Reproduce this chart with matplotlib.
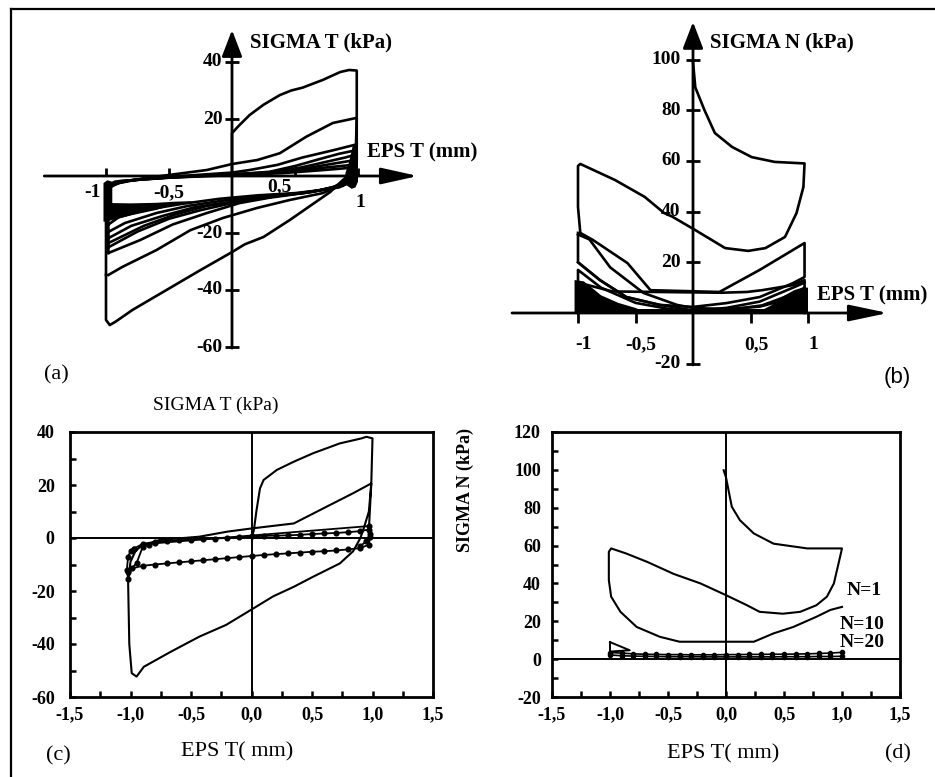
import matplotlib.pyplot as plt
from matplotlib.lines import Line2D
from matplotlib.ticker import MultipleLocator

plt.rcParams['font.family'] = 'serif'
plt.rcParams['font.serif'] = ['Liberation Serif', 'DejaVu Serif']

# ── (a) measured shear stress loops ─────────────────
A1_X = [0.0, 0.0, 0.03, 0.06, 0.14, 0.25, 0.38, 0.47, 0.56, 0.72, 0.86, 0.93, 0.99, 0.99, 0.98, 0.95, 0.88, 0.78,
        0.62, 0.46, 0.25, 0.1, 0.0, -0.25, -0.52, -0.79, -0.92, -0.97, -1.0, -1.0, -1.0]
A1_Y = [0.0, 15.0, 16.5, 17.9, 21.4, 25.0, 28.4, 30.0, 31.0, 33.7, 36.5, 37.2, 37.0, 20.0, 5.0, 1.0, -1.4, -5.6,
        -10.5, -15.4, -21.4, -24.0, -26.7, -33.0, -40.0, -47.0, -51.0, -52.3, -50.5, -40.0, -34.7]
A2_X = [-1.0, -1.0, -0.97, -0.9, -0.7, -0.39, -0.2, 0.0, 0.2, 0.38, 0.59, 0.8, 0.99, 0.99, 0.95, 0.85, 0.72,
        0.46, 0.2, -0.07, -0.33, -0.6, -0.87, -0.98]
A2_Y = [-34.7, -8.0, -4.0, -2.5, -0.8, 1.0, 2.1, 4.2, 5.6, 8.0, 13.8, 18.6, 20.4, 5.0, 0.0, -3.5, -6.0,
        -8.4, -11.2, -14.7, -19.0, -26.0, -31.9, -34.7]
A3_X = [-0.98, -1.0, -0.97, -0.85, -0.6, -0.3, 0.0, 0.14, 0.36, 0.56, 0.8, 0.98, 0.98, 0.93, 0.8, 0.6, 0.3,
        0.06, -0.2, -0.47, -0.73, -0.98]
A3_Y = [-27.0, -10.0, -3.5, -1.8, -0.6, 0.3, 1.2, 2.1, 3.9, 6.5, 9.0, 11.0, 2.0, -1.0, -4.0, -5.8, -7.6,
        -9.5, -13.0, -17.0, -22.5, -27.0]
A4_X = [-0.98, -1.0, -0.96, -0.8, -0.5, -0.2, 0.1, 0.3, 0.5, 0.7, 0.85, 0.98, 0.98, 0.92, 0.7, 0.45, 0.2,
        0.0, -0.25, -0.5, -0.75, -0.98]
A4_Y = [-25.0, -9.0, -3.0, -1.5, -0.5, 0.2, 0.8, 1.5, 3.5, 6.0, 7.8, 9.0, 1.0, -2.5, -5.0, -6.5, -8.0,
        -9.5, -12.0, -15.0, -19.5, -25.0]
A5_X = [-0.98, -1.0, -0.95, -0.75, -0.4, 0.0, 0.3, 0.55, 0.75, 0.9, 0.98, 0.98, 0.9, 0.65, 0.4, 0.1, -0.2,
        -0.45, -0.7, -0.98]
A5_Y = [-23.5, -8.0, -2.5, -1.2, -0.2, 0.6, 1.3, 3.0, 5.0, 6.5, 7.5, 0.5, -3.0, -5.5, -6.8, -8.5, -10.5,
        -13.5, -17.5, -23.5]
A6_X = [-0.98, -1.0, -0.94, -0.7, -0.3, 0.1, 0.4, 0.6, 0.8, 0.98, 0.98, 0.88, 0.6, 0.3, 0.0, -0.3, -0.55,
        -0.8, -0.98]
A6_Y = [-21.8, -7.0, -2.2, -1.0, 0.0, 0.7, 1.4, 2.8, 4.3, 5.6, 0.0, -3.5, -5.8, -7.2, -9.0, -11.0, -14.0,
        -17.5, -21.8]
A7_X = [-0.98, -1.0, -0.93, -0.6, -0.2, 0.2, 0.5, 0.75, 0.98, 0.98, 0.85, 0.55, 0.25, -0.05, -0.35, -0.6,
        -0.85, -0.98]
A7_Y = [-19.6, -6.0, -2.0, -0.8, 0.1, 0.8, 1.7, 3.0, 4.0, -0.5, -4.0, -6.0, -7.0, -8.5, -10.5, -13.0,
        -16.5, -19.6]
A8_X = [-0.98, -1.0, -0.9, -0.5, 0.0, 0.4, 0.7, 0.98, 0.98, 0.8, 0.5, 0.2, -0.1, -0.4, -0.7, -0.9, -0.98]
A8_Y = [-17.0, -5.0, -1.8, -0.6, 0.3, 1.0, 2.0, 3.0, -1.0, -4.5, -6.0, -6.8, -8.0, -9.8, -12.0, -14.5, -17.0]
A_FILL_L_X = [-1.02, -1.02, -0.99, -0.95, -0.95, -0.8, -0.6, -0.45, -0.3, -0.45, -0.6, -0.8, -1.0]
A_FILL_L_Y = [-16.0, -2.5, -1.5, -2.0, -9.5, -9.6, -9.4, -9.0, -8.8, -10.0, -11.9, -13.8, -16.0]
A_FILL_R_X = [0.9, 0.95, 0.98, 1.0, 1.0, 0.96, 0.93, 0.9]
A_FILL_R_Y = [-3.0, -4.5, -4.0, -2.0, 11.5, 11.0, 5.0, 1.0]
A_YTICKS = [40, 20, -20, -40, -60]
A_XTICKS = [-1, -0.5, 0.5, 1]
A_XTICKLABELS = ['-1', '-0,5', '0,5', '1']

# ── (b) measured normal stress loops ────────────────
B1_X = [0.0, 0.02, 0.1, 0.19, 0.34, 0.51, 0.71, 0.97, 0.96, 0.9, 0.8, 0.63, 0.48, 0.28, 0.02, -0.18, -0.25,
        -0.42, -0.68, -0.98, -1.0, -1.0, -0.98]
B1_Y = [99.0, 89.0, 80.0, 71.0, 65.5, 61.5, 59.6, 59.0, 49.7, 39.4, 30.0, 25.6, 24.5, 25.6, 32.7, 38.0, 39.4,
        45.8, 52.5, 58.8, 58.0, 41.8, 31.6]
B2_X = [-0.98, -0.87, -0.57, -0.37, 0.23, 0.58, 0.97, 0.97, 0.87, 0.58, 0.29, 0.0, -0.29, -0.58, -0.81, -1.0,
        -1.0]
B2_Y = [31.6, 28.8, 19.7, 9.0, 8.3, 17.0, 27.6, 14.2, 11.8, 6.3, 3.9, 2.4, 3.2, 6.3, 13.0, 20.0, 31.6]
B3_X = [-1.0, -0.9, -0.72, -0.43, -0.14, 0.0, 0.29, 0.58, 0.87, 0.97]
B3_Y = [31.0, 29.0, 18.0, 7.9, 3.2, 2.0, 1.5, 2.5, 6.0, 9.0]
B4_X = [-1.0, -0.7, 0.25, 0.47, 0.6, 0.87, 0.97, 0.97]
B4_Y = [12.0, 8.5, 8.0, 8.3, 9.0, 11.0, 13.0, 0.0]
B5_X = [-1.0, -0.81, -0.58, -0.29, 0.0, 0.29, 0.58, 0.87, 0.97]
B5_Y = [20.0, 13.0, 6.3, 3.2, 1.0, 2.0, 4.5, 10.0, 12.0]
B6_X = [-1.0, -1.0, -0.8, -0.5, -0.2, 0.0, 0.3, 0.6, 0.9, 0.97]
B6_Y = [0.0, 17.0, 10.0, 4.0, 1.5, 0.8, 1.2, 3.0, 8.0, 10.0]
B_FILL_L_X = [-1.03, -1.03, -0.95, -0.88, -0.8, -0.65, -0.5, -0.4]
B_FILL_L_Y = [0.0, 13.0, 12.5, 10.0, 7.0, 4.0, 2.0, 0.0]
B_FILL_R_X = [0.55, 0.68, 0.78, 0.88, 0.95, 1.0, 1.0]
B_FILL_R_Y = [0.0, 3.0, 6.5, 9.0, 10.0, 10.0, 0.0]
B_STRIP_X = [-1.03, 1.0, 1.0, -1.03]
B_STRIP_Y = [0.0, 0.0, 1.5, 1.5]
B_YTICKS = [100, 80, 60, 40, 20, -20]
B_XTICKS = [-1, -0.5, 0.5, 1]
B_XTICKLABELS = ['-1', '-0,5', '0,5', '1']

# ── (c) simulated shear stress ──────────────────────
C1_X = [0.0, 0.02, 0.04, 0.07, 0.1, 0.21, 0.35, 0.51, 0.73, 0.91, 0.95, 1.0, 0.99, 0.97, 0.93, 0.9, 0.84,
        0.73, 0.51, 0.35, 0.18, 0.0, -0.21, -0.43, -0.67, -0.89, -0.95, -0.99, -1.01, -1.02, -1.0, -0.96,
        -0.92, -0.76, -0.43, -0.2, 0.0, 0.35, 0.62, 0.84, 0.99, 0.97]
C1_Y = [0.0, 3.0, 10.0, 18.7, 21.9, 25.7, 28.8, 32.0, 35.7, 37.6, 38.2, 37.6, 20.6, 10.0, 4.0, 0.0, -5.0,
        -9.6, -14.6, -18.4, -22.0, -27.0, -32.8, -37.2, -43.0, -48.6, -52.3, -51.0, -40.0, -15.8, -9.0, -5.0,
        -3.3, -0.75, 0.5, 2.4, 3.6, 5.5, 11.8, 16.9, 20.6, 3.0]
C2_X = [-0.97, -0.9, -0.8, -0.7, -0.6, -0.5, -0.4, -0.3, -0.2, -0.1, 0.0, 0.1, 0.2, 0.3, 0.4, 0.5, 0.6,
        0.7, 0.8, 0.9, 0.97, 0.98, 0.97, 0.9, 0.8, 0.7, 0.6, 0.5, 0.4, 0.3, 0.2, 0.1, 0.0, -0.1, -0.2,
        -0.3, -0.4, -0.5, -0.6, -0.7, -0.8, -0.9, -0.99, -1.02, -1.03, -1.02, -1.0, -0.97]
C2_Y = [-4.0, -2.2, -1.5, -1.1, -0.8, -0.6, -0.4, -0.2, 0.0, 0.3, 0.6, 0.8, 0.9, 1.0, 1.2, 1.5, 1.7,
        1.9, 2.2, 2.6, 3.2, 0.5, -2.5, -3.8, -4.3, -4.7, -5.0, -5.2, -5.5, -5.8, -6.1, -6.4, -6.8, -7.2, -7.6,
        -8.0, -8.4, -8.8, -9.2, -9.6, -10.0, -10.5, -11.5, -15.5, -12.0, -7.0, -5.0, -4.0]
C3_X = [-1.02, -0.95, -0.9, -0.85, -0.8, 0.97, 0.98, 0.95, 0.9]
C3_Y = [-13.0, -9.5, -3.5, -2.5, -2.0, 4.5, 1.5, -1.0, -3.2]
C_YTICKS = [40, 20, 0, -20, -40, -60]

# ── (d) simulated normal stress ─────────────────────
D1_X = [-0.02, 0.0, 0.05, 0.12, 0.24, 0.41, 0.7, 1.0, 0.97, 0.93, 0.87, 0.78, 0.64, 0.49, 0.29, 0.18, 0.0,
        -0.22, -0.45, -0.68, -0.86, -0.99, -1.01, -1.01, -0.99, -0.91, -0.77, -0.57, -0.4, 0.24, 0.41, 0.58,
        0.78, 0.9, 1.0]
D1_Y = [99.8, 96.0, 80.5, 73.4, 66.4, 61.0, 58.5, 58.5, 50.5, 40.0, 33.0, 28.5, 25.0, 24.0, 25.0, 28.5, 33.8,
        40.0, 45.0, 51.4, 55.8, 58.5, 56.7, 41.7, 33.0, 25.0, 17.0, 11.8, 9.2, 9.2, 13.6, 17.0,
        22.4, 26.0, 27.6]
D2_X = [-1.0, -0.83, -1.0, -1.0]
D2_Y = [9.0, 4.7, 4.0, 9.0]
D3_X = [-1.0, -0.9, -0.8, -0.7, -0.6, -0.5, -0.4, -0.3, -0.2, -0.1, 0.0, 0.1, 0.2, 0.3, 0.4, 0.5, 0.6, 0.7,
        0.8, 0.9, 1.0]
D3_Y = [3.5, 3.2, 2.8, 2.6, 2.5, 2.4, 2.4, 2.3, 2.3, 2.3, 2.4, 2.4, 2.5, 2.5, 2.6, 2.6, 2.7, 2.8,
        3.0, 3.2, 3.6]
D4_X = [1.0, 0.9, 0.8, 0.7, 0.6, 0.5, 0.4, 0.3, 0.2, 0.1, 0.0, -0.1, -0.2, -0.3, -0.4, -0.5, -0.6, -0.7,
        -0.8, -0.9, -1.0]
D4_Y = [1.5, 1.4, 1.4, 1.3, 1.3, 1.3, 1.2, 1.2, 1.2, 1.2, 1.2, 1.2, 1.2, 1.3, 1.3, 1.3, 1.4, 1.5,
        1.6, 1.8, 2.2]
D_YTICKS = [120, 100, 80, 60, 40, 20, 0, -20]
D_LABELS = ['N=1', 'N=10', 'N=20']
D_LABEL_X = [1.04, 0.98, 0.98]
D_LABEL_Y = [36.4, 18.5, 9.0]

X_TICKS = [-1.5, -1.0, -0.5, 0.0, 0.5, 1.0, 1.5]
X_TICKLABELS = ['-1,5', '-1,0', '-0,5', '0,0', '0,5', '1,0', '1,5']

# ── Figure ──────────────────────────────────────────
W, H = 935, 777
fig = plt.figure(figsize=(W / 100, H / 100), dpi=100)


def pix_axes(l, t, r, b):
    return fig.add_axes([l / W, 1 - b / H, (r - l) / W, (b - t) / H])


def sketch_axes(box, x0, y0, sx, sy):
    # axes whose data coords match the hand-drawn scale of the scan
    l, t, r, b = box
    ax = pix_axes(l, t, r, b)
    ax.set_xlim((l - x0) / sx, (r - x0) / sx)
    ax.set_ylim((y0 - b) / sy, (y0 - t) / sy)
    ax.axis('off')
    return ax


def arrow(ax, start, end, hl, hw):
    ax.annotate('', xy=end, xytext=start,
                arrowprops=dict(arrowstyle=f'-|>,head_length={hl},head_width={hw}',
                                lw=2.0, color='k', mutation_scale=25, shrinkA=0, shrinkB=0))


lab_font = dict(fontsize=15, fontweight='bold')
tick_font = dict(fontsize=14, fontweight='bold')
LW = 1.9

# ── (a) ──
ax = sketch_axes((20, 15, 470, 365), 232, 176, 126, 2.85)
for xs, ys in [(A1_X, A1_Y), (A2_X, A2_Y), (A3_X, A3_Y), (A4_X, A4_Y),
               (A5_X, A5_Y), (A6_X, A6_Y), (A7_X, A7_Y), (A8_X, A8_Y)]:
    ax.plot(xs, ys, color='k', lw=LW, solid_joinstyle='round', clip_on=False)
ax.fill(A_FILL_L_X, A_FILL_L_Y, color='k', lw=0)
ax.fill(A_FILL_R_X, A_FILL_R_Y, color='k', lw=0)
arrow(ax, (-1.49, 0), (1.476, 0), 0.9, 0.2)
arrow(ax, (0, -60.4), (0, 51.2), 0.65, 0.25)
ax.plot([0] * len(A_YTICKS), A_YTICKS, ls='none', marker='_', ms=10, mew=2, color='k')
ax.plot(A_XTICKS, [0] * len(A_XTICKS), ls='none', marker=2, ms=6, mew=2, color='k')
for v in A_YTICKS:
    ax.annotate(str(v), (0, v), xytext=(-7, 0), textcoords='offset points',
                ha='right', va='center', **tick_font)
for v, lab, dx, dy in zip(A_XTICKS, A_XTICKLABELS, [-10, 0, -11, 2], [-12, -12, -8, -19]):
    ax.annotate(lab, (v, 0), xytext=(dx, dy), textcoords='offset points',
                ha='center', va='center', **tick_font)
ax.text(0.143, 47, 'SIGMA T (kPa)', ha='left', va='center', **lab_font)
ax.text(1.07, 8.1, 'EPS T (mm)', ha='left', va='center', **lab_font)
fig.text(56 / W, 1 - 375 / H, '(a)', fontsize=16, ha='center', va='center')

# ── (b) ──
ax = sketch_axes((470, 15, 930, 370), 693, 313, 115, 2.535)
ax.fill(B_FILL_L_X, B_FILL_L_Y, color='k', lw=0)
ax.fill(B_FILL_R_X, B_FILL_R_Y, color='k', lw=0)
ax.fill(B_STRIP_X, B_STRIP_Y, color='k', lw=0)
for xs, ys in [(B1_X, B1_Y), (B2_X, B2_Y), (B3_X, B3_Y), (B4_X, B4_Y), (B5_X, B5_Y), (B6_X, B6_Y)]:
    ax.plot(xs, ys, color='k', lw=LW, solid_joinstyle='round')
arrow(ax, (-1.574, 0), (1.696, 0), 0.95, 0.2)
arrow(ax, (0, -20.5), (0, 114.8), 0.65, 0.25)
ax.plot([0] * len(B_YTICKS), B_YTICKS, ls='none', marker='_', ms=10, mew=2, color='k')
ax.plot(B_XTICKS, [0] * len(B_XTICKS), ls='none', marker=3, ms=7, mew=2, color='k')
for v in B_YTICKS:
    ax.annotate(str(v), (0, v), xytext=(-9, 0), textcoords='offset points',
                ha='right', va='center', **tick_font)
for v, lab in zip(B_XTICKS, B_XTICKLABELS):
    ax.annotate(lab, (v, 0), xytext=(4, -23), textcoords='offset points',
                ha='center', va='center', **tick_font)
ax.text(0.148, 106.9, 'SIGMA N (kPa)', ha='left', va='center', **lab_font)
ax.text(1.078, 7.1, 'EPS T (mm)', ha='left', va='center', **lab_font)
fig.text(897 / W, 1 - 377 / H, '(b)', fontsize=16, family='Liberation Sans', ha='center', va='center')


def box_axes(ax, yticks, ylim):
    ax.axhline(0, color='k', lw=1.4)
    ax.axvline(0, color='k', lw=1.4)
    ax.set_xlim(-1.5, 1.5)
    ax.set_ylim(*ylim)
    ax.set_xticks(X_TICKS, X_TICKLABELS, fontsize=13, fontweight='bold')
    ax.set_yticks(yticks, [str(v) for v in yticks], fontsize=13, fontweight='bold')
    ax.xaxis.set_minor_locator(MultipleLocator(0.25))
    ax.yaxis.set_minor_locator(MultipleLocator(10))
    ax.tick_params(which='both', direction='in', length=4, width=1.8)
    ax.tick_params(axis='x', pad=7)
    for s in ax.spines.values():
        s.set_linewidth(2.0)


# ── (c) ──
ax = pix_axes(70, 432, 433, 697)
ax.plot(C1_X, C1_Y, color='k', lw=1.5)
ax.plot(C2_X, C2_Y, color='k', lw=1.3, marker='o', ms=3.4)
ax.plot(C3_X, C3_Y, color='k', lw=1.3, marker='o', ms=3.4)
box_axes(ax, C_YTICKS, (-60, 40))
ax.tick_params(axis='y', pad=11)
fig.text(216 / W, 1 - 405 / H, 'SIGMA T (kPa)', fontsize=14, ha='center', va='center')
fig.text(237 / W, 1 - 752 / H, 'EPS T( mm)', fontsize=16, ha='center', va='center')
fig.text(58 / W, 1 - 756 / H, '(c)', fontsize=16, ha='center', va='center')

# ── (d) ──
ax = pix_axes(552, 432, 900, 697)
ax.plot(D1_X, D1_Y, color='k', lw=1.5)
ax.plot(D2_X, D2_Y, color='k', lw=1.4)
ax.plot(D3_X, D3_Y, color='k', lw=1.2, marker='o', ms=3)
ax.plot(D4_X, D4_Y, color='k', lw=1.2, marker='o', ms=3)
box_axes(ax, D_YTICKS, (-20, 120))
ax.tick_params(axis='y', pad=8)
ax.set_ylabel('SIGMA N (kPa)', fontsize=13, fontweight='bold')
ax.yaxis.set_label_coords((474 - 552) / 348, (697 - 490) / 265)
for lab, lx, ly in zip(D_LABELS, D_LABEL_X, D_LABEL_Y):
    ax.text(lx, ly, lab, ha='left', va='center', clip_on=False, **tick_font)
fig.text(723 / W, 1 - 754 / H, 'EPS T( mm)', fontsize=16, ha='center', va='center')
fig.text(898 / W, 1 - 754 / H, '(d)', fontsize=16, ha='center', va='center')

# outer frame (left and top only, as in the scan)
fig.add_artist(Line2D([11 / W, 11 / W], [0, 1 - 9 / H], transform=fig.transFigure, color='k', lw=1.6))
fig.add_artist(Line2D([11 / W, 1], [1 - 9 / H, 1 - 9 / H], transform=fig.transFigure, color='k', lw=1.6))

fig.savefig('out.png', dpi=100)
